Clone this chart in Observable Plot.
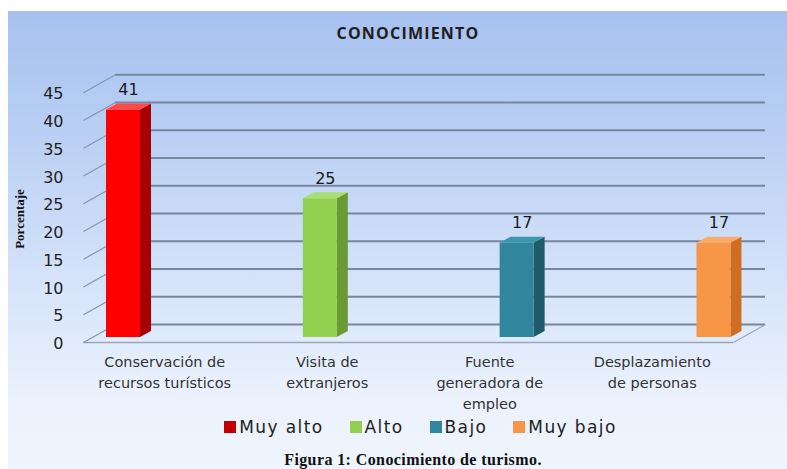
<!DOCTYPE html>
<html><head><meta charset="utf-8">
<script src="https://cdn.jsdelivr.net/npm/d3@7"></script>
<script src="https://cdn.jsdelivr.net/npm/@observablehq/plot@0.6"></script>
<style>
body{margin:0;background:#fff;width:787px;height:469px;overflow:hidden;position:relative;font-family:"DejaVu Sans",sans-serif;}
#box{position:absolute;left:8px;top:11px;width:779px;height:458px;background:linear-gradient(#a7c1ef 0%,#bcd1f4 30%,#d6e4fa 60%,#ebf2fd 85%,#eff5fe 100%);}
#chart{position:absolute;left:0;top:0;}
#title{position:absolute;top:22px;left:0;width:816px;text-align:center;font:bold 16px "Open Sans",sans-serif;color:#1e1e1e;letter-spacing:1.2px;}
#ylabel{position:absolute;left:20px;top:219px;transform:translate(-50%,-50%) rotate(-90deg);font:bold 13px "Liberation Serif",serif;color:#111;white-space:nowrap;}
#legend{position:absolute;left:0;top:417px;width:841px;display:flex;justify-content:center;font-size:17px;color:#222;letter-spacing:1.4px;}
#legend .item{display:flex;align-items:center;margin:0 13px;}
#legend .sw{width:12px;height:12px;margin-right:3px;}
#caption{position:absolute;left:0;top:451px;width:826px;text-align:center;font:bold 16px "Liberation Serif",serif;color:#111;letter-spacing:0.4px;}
</style></head><body>
<div id="box"></div>
<div id="title">CONOCIMIENTO</div>
<div id="ylabel">Porcentaje</div>
<div id="chart"></div>
<div id="legend"></div>
<div id="caption">Figura 1: Conocimiento de turismo.</div>
<script>
const categories = ["Conservación de\nrecursos turísticos", "Visita de\nextranjeros", "Fuente\ngeneradora de\nempleo", "Desplazamiento\nde personas"];
const values = [41, 25, 17, 17];
const levels = ["Muy alto", "Alto", "Bajo", "Muy bajo"];
const yTicks = [0, 5, 10, 15, 20, 25, 30, 35, 40, 45];

const frontColors = ["#ff0000", "#92d050", "#31859c", "#f79646"];
const sideColors = ["#a80000", "#6a9a33", "#1f5b6b", "#cf6d22"];
const topColors = ["#ff4848", "#a9de72", "#3c96ae", "#faab68"];
const legendColors = ["#c00000", "#92d050", "#31859c", "#f79646"];

const rows = categories.map((c, i) => ({i, category: c, level: levels[i], value: values[i]}));

const W = 787, H = 415, mL = 92, mR = 45, mT = 87.25, mB = 78;
const X0 = -0.1575, X1 = 3.145;
const pxX = (W - mL - mR) / (X1 - X0);
const pxY = (H - mT - mB) / 45;
const ux = p => p / pxX, uy = p => p / pxY;
const HW = ux(17), DW = ux(11), DH = uy(6);
const WALL_X = ux(32), WALL_Y = uy(18);
const FRONT = {dx: -9, dy: 5}, BACK = {dx: 23, dy: -13};

const marks = [
  Plot.ruleY(yTicks, {stroke: "#7686a0", strokeWidth: 2, ...BACK}),
  Plot.link(yTicks, {x1: X0, x2: X0 + WALL_X, y1: d => d, y2: d => d + WALL_Y, stroke: "#8795ab", strokeWidth: 1.2, ...FRONT}),
  Plot.ruleY([0], {stroke: "#9aa6b8", strokeWidth: 1.5, ...FRONT}),
  Plot.link([0], {x1: X1, x2: X1 + WALL_X, y1: 0, y2: WALL_Y, stroke: "#9aa6b8", strokeWidth: 1.2, ...FRONT})
];
for (const r of rows) {
  const v = r.value;
  marks.push(
    Plot.areaY([{x: r.i + HW, lo: 0, hi: v}, {x: r.i + HW + DW, lo: DH, hi: v + DH}],
      {x: "x", y1: "lo", y2: "hi", fill: sideColors[r.i]}),
    Plot.rect([r], {x1: d => d.i - HW, x2: d => d.i + HW, y1: 0, y2: "value", fill: frontColors[r.i]}),
    Plot.areaY([{x: r.i - HW, lo: v, hi: v}, {x: r.i - HW + DW, lo: v, hi: v + DH}, {x: r.i + HW, lo: v, hi: v + DH}, {x: r.i + HW + DW, lo: v + DH, hi: v + DH}],
      {x: "x", y1: "lo", y2: "hi", fill: topColors[r.i]})
  );
}
marks.push(
  Plot.text(rows, {x: "i", y: "value", text: d => String(d.value), dx: 5, dy: -20, fontSize: 16, fill: "#1a1a1a", letterSpacing: 1}),
  Plot.axisY({ticks: yTicks, tickSize: 0, tickPadding: 29, dy: 6.5, fontSize: 16, label: null, color: "#222"}),
  Plot.text(categories, {x: (d, k) => X0 + (X1 - X0) * (k + 0.5) / 4, frameAnchor: "bottom", lineAnchor: "top", text: d => d, dx: -9, dy: 15, fontSize: 14.5, lineHeight: 1.45, fill: "#333", letterSpacing: 0.5})
);

const chart = Plot.plot({
  width: W, height: H, marginLeft: mL, marginRight: mR, marginTop: mT, marginBottom: mB,
  x: {type: "linear", domain: [X0, X1], axis: null},
  y: {domain: [0, 45]},
  style: {background: "transparent", fontFamily: "DejaVu Sans", overflow: "visible"},
  marks
});
document.getElementById("chart").appendChild(chart);

const legend = document.getElementById("legend");
levels.forEach((l, i) => {
  const it = document.createElement("div"); it.className = "item";
  const sw = document.createElement("span"); sw.className = "sw"; sw.style.background = legendColors[i];
  const tx = document.createElement("span"); tx.textContent = l;
  it.appendChild(sw); it.appendChild(tx); legend.appendChild(it);
});
</script>
</body></html>
